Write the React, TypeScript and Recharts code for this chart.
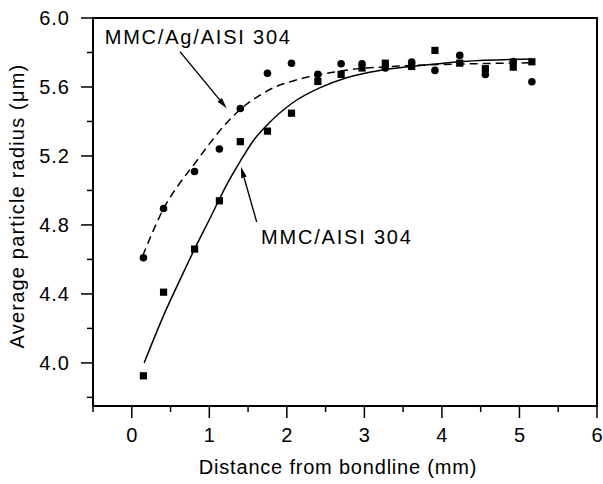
import React from "react";
import {
  ComposedChart,
  Line,
  Scatter,
  XAxis,
  YAxis,
  ReferenceLine,
  ReferenceDot,
} from "recharts";

// measured points (same sampling distances for both joints)
const distanceMm = [0.15, 0.41, 0.81, 1.13, 1.4, 1.75, 2.06, 2.4, 2.7, 2.97, 3.27, 3.61, 3.91, 4.23, 4.56, 4.92, 5.16];
const radiusAg = [4.61, 4.895, 5.11, 5.24, 5.475, 5.68, 5.738, 5.673, 5.735, 5.735, 5.71, 5.744, 5.696, 5.783, 5.673, 5.748, 5.63];
const radiusPlain = [3.925, 4.41, 4.66, 4.94, 5.283, 5.344, 5.448, 5.632, 5.673, 5.71, 5.738, 5.719, 5.812, 5.738, 5.706, 5.715, 5.746];

// fitted curves
const fitAgX = [0.14, 0.28, 0.41, 0.6, 0.81, 1.0, 1.22, 1.4, 1.61, 1.85, 2.08, 2.34, 2.6, 2.9, 3.2, 3.63, 4.2, 4.7, 5.14];
const fitAgY = [4.62, 4.77, 4.895, 5.03, 5.155, 5.27, 5.39, 5.47, 5.54, 5.6, 5.635, 5.665, 5.686, 5.705, 5.715, 5.725, 5.733, 5.737, 5.74];
const fitPlainX = [0.16, 0.425, 0.62, 0.81, 1.0, 1.22, 1.4, 1.57, 1.74, 2.08, 2.43, 2.77, 3.2, 3.63, 4.28, 5.16];
const fitPlainY = [4.0, 4.29, 4.48, 4.66, 4.83, 5.03, 5.17, 5.29, 5.377, 5.51, 5.596, 5.654, 5.696, 5.72, 5.748, 5.762];

const xTicks = [-0.5, 0, 0.5, 1, 1.5, 2, 2.5, 3, 3.5, 4, 4.5, 5, 5.5, 6];
const yTicks = [3.8, 4.0, 4.2, 4.4, 4.6, 4.8, 5.0, 5.2, 5.4, 5.6, 5.8, 6.0];
const xDomain = [-0.5, 6];
const yDomain = [3.75, 6];

const agPoints = distanceMm.map((x, i) => ({ x, y: radiusAg[i] }));
const plainPoints = distanceMm.map((x, i) => ({ x, y: radiusPlain[i] }));
const agFit = fitAgX.map((x, i) => ({ x, y: fitAgY[i] }));
const plainFit = fitPlainX.map((x, i) => ({ x, y: fitPlainY[i] }));

const W = 603;
const H = 484;
const margin = { top: 18, right: 6, left: 0, bottom: 0 };
const yAxisW = 93;
const xAxisH = 78;

const font = "'Liberation Sans', Arial, Helvetica, sans-serif";
const ink = "#000";
const frame = { stroke: ink, strokeWidth: 1.8 };

const XTick = ({ x, y, payload }: any) => {
  const major = Number.isInteger(payload.value);
  return (
    <g>
      <line x1={x} x2={x} y1={y} y2={y + (major ? 12 : 6)} stroke={ink} strokeWidth={1.5} />
      {major && (
        <text x={x} y={y + 36} textAnchor="middle" fontFamily={font} fontSize={20} fill={ink}>
          {payload.value}
        </text>
      )}
    </g>
  );
};

const YTick = ({ x, y, payload }: any) => {
  const major = Math.round(payload.value * 10) % 4 === 0;
  return (
    <g>
      <line x1={x - (major ? 12 : 6)} x2={x} y1={y} y2={y} stroke={ink} strokeWidth={1.5} />
      {major && (
        <text x={x - 23} y={y + 7} textAnchor="end" fontFamily={font} fontSize={20} letterSpacing={1} fill={ink}>
          {payload.value.toFixed(1)}
        </text>
      )}
    </g>
  );
};

const Arrow = ({ x1, y1, x2, y2 }: any) => {
  const a = Math.atan2(y2 - y1, x2 - x1);
  const len = 11;
  const half = 2.8;
  const bx = x2 - len * Math.cos(a);
  const by = y2 - len * Math.sin(a);
  const px = -Math.sin(a) * half;
  const py = Math.cos(a) * half;
  return (
    <g>
      <line x1={x1} y1={y1} x2={bx} y2={by} stroke={ink} strokeWidth={1.4} />
      <polygon points={`${x2},${y2} ${bx + px},${by + py} ${bx - px},${by - py}`} fill={ink} />
    </g>
  );
};

const noteText = (text: string) => (p: any) => (
  <text x={p.cx} y={p.cy} fontFamily={font} fontSize={20} letterSpacing={1.8} fill={ink}>
    {text}
  </text>
);

export default function App() {
  // plot box outline, laid over the chart
  const box = {
    left: margin.left + yAxisW - 1,
    top: margin.top - 1,
    width: W - margin.left - margin.right - yAxisW + 2,
    height: H - margin.top - margin.bottom - xAxisH + 2,
  };
  return (
    <div style={{ position: "absolute", left: 0, top: 0, width: W, height: H, background: "#fff" }}>
      <ComposedChart width={W} height={H} margin={margin}>
        <XAxis
          type="number"
          dataKey="x"
          domain={xDomain}
          ticks={xTicks}
          height={xAxisH}
          tickSize={0}
          tickMargin={0}
          tickLine={false}
          tick={<XTick />}
          axisLine={frame}
          label={{
            value: "Distance from bondline (mm)",
            position: "insideBottom",
            offset: 10,
            dx: -7,
            style: { fontFamily: font, fontSize: 20, fill: ink, letterSpacing: 0.8 },
          }}
        />
        <YAxis
          type="number"
          dataKey="y"
          domain={yDomain}
          ticks={yTicks}
          width={yAxisW}
          tickSize={0}
          tickMargin={0}
          tickLine={false}
          tick={<YTick />}
          axisLine={frame}
          label={{
            content: ({ viewBox }: any) => {
              const cx = viewBox.x + 24;
              const cy = viewBox.y + viewBox.height / 2 - 6;
              return (
                <text
                  x={cx}
                  y={cy}
                  transform={`rotate(-90 ${cx} ${cy})`}
                  textAnchor="middle"
                  fontFamily={font}
                  fontSize={20}
                  letterSpacing={1.2}
                  fill={ink}
                >
                  Average particle radius (μm)
                </text>
              );
            },
          }}
        />

        <Line
          data={agFit}
          dataKey="y"
          type="monotone"
          stroke={ink}
          strokeWidth={1.5}
          strokeDasharray="8 5"
          dot={false}
          activeDot={false}
          isAnimationActive={false}
        />
        <Line
          data={plainFit}
          dataKey="y"
          type="monotone"
          stroke={ink}
          strokeWidth={1.5}
          dot={false}
          activeDot={false}
          isAnimationActive={false}
        />
        <Scatter
          data={agPoints}
          dataKey="y"
          isAnimationActive={false}
          shape={(p: any) => <circle cx={p.cx} cy={p.cy} r={3.8} fill={ink} />}
        />
        <Scatter
          data={plainPoints}
          dataKey="y"
          isAnimationActive={false}
          shape={(p: any) => <rect x={p.cx - 3.6} y={p.cy - 3.6} width={7.2} height={7.2} fill={ink} />}
        />

        <ReferenceLine segment={[{ x: 0.622, y: 5.805 }, { x: 1.224, y: 5.476 }]} shape={<Arrow />} />
        <ReferenceLine segment={[{ x: 1.611, y: 4.818 }, { x: 1.408, y: 5.137 }]} shape={<Arrow />} />
        <ReferenceDot x={-0.349} y={5.852} r={0} shape={noteText("MMC/Ag/AISI 304")} />
        <ReferenceDot x={1.667} y={4.688} r={0} shape={noteText("MMC/AISI 304")} />
      </ComposedChart>
      <div
        style={{
          position: "absolute",
          ...box,
          border: "2px solid #000",
          boxSizing: "border-box",
          pointerEvents: "none",
        }}
      />
    </div>
  );
}
